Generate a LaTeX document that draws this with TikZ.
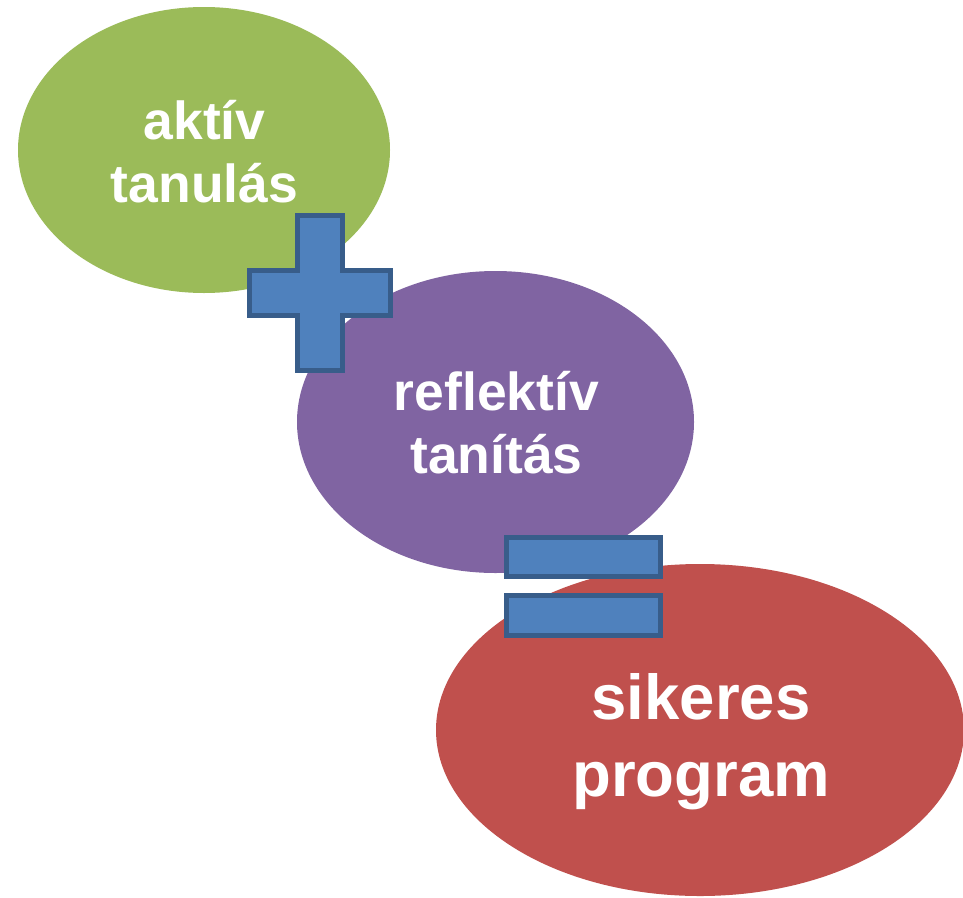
\documentclass[tikz,border=0pt]{standalone}
\usepackage{fontspec}
\setmainfont{Liberation Sans}
\usetikzlibrary{shapes.geometric}
\definecolor{cgreen}{HTML}{9BBB59}
\definecolor{cpurple}{HTML}{8064A2}
\definecolor{cred}{HTML}{C0504D}
\definecolor{cblue}{HTML}{4F81BD}
\definecolor{cblueb}{HTML}{385D8A}
\tikzset{
  blob/.style={ellipse, inner sep=0pt, outer sep=0pt},
  lbl/.style={anchor=base, text=white, font=\bfseries, inner sep=0pt},
  small/.style={font=\bfseries\fontsize{53.5}{64}\selectfont},
  big/.style={font=\bfseries\fontsize{63.5}{76}\selectfont},
  opshape/.style={fill=cblue, draw=cblueb, line width=5pt, line join=miter},
}
\begin{document}
\begin{tikzpicture}[x=1pt, y=-1pt]
\useasboundingbox[fill=white] (0,0) rectangle (963,897);
% ellipses
\node[blob, fill=cgreen, minimum width=372pt, minimum height=286pt] (green) at (204,150) {};
\node[blob, fill=cpurple, minimum width=397pt, minimum height=302pt] (purple) at (495.5,422) {};
\node[blob, fill=cred, minimum width=528pt, minimum height=332pt] (red) at (700,730) {};
% texts
\node[lbl, small] (t1a) at (204.5,139) {aktív};
\node[lbl, small] (t1b) at (204.5,202) {tanulás};
\node[lbl, small] (t2a) at (496.5,410) {reflektív};
\node[lbl, small] (t2b) at (496.5,473) {tanítás};
\node[lbl, big] (t3a) at (701,719) {sikeres};
\node[lbl, big] (t3b) at (701,796) {program};
% plus sign
\draw[opshape] (297.5,215.5) -- (342.5,215.5) -- (342.5,270.5) -- (390.5,270.5) -- (390.5,315.5)
  -- (342.5,315.5) -- (342.5,370.5) -- (297.5,370.5) -- (297.5,315.5) -- (249.5,315.5)
  -- (249.5,270.5) -- (297.5,270.5) -- cycle;
% equals sign
\draw[opshape] (506.5,537.5) rectangle (660.5,576.5);
\draw[opshape] (506.5,595.5) rectangle (660.5,635.5);
\end{tikzpicture}
\end{document}
